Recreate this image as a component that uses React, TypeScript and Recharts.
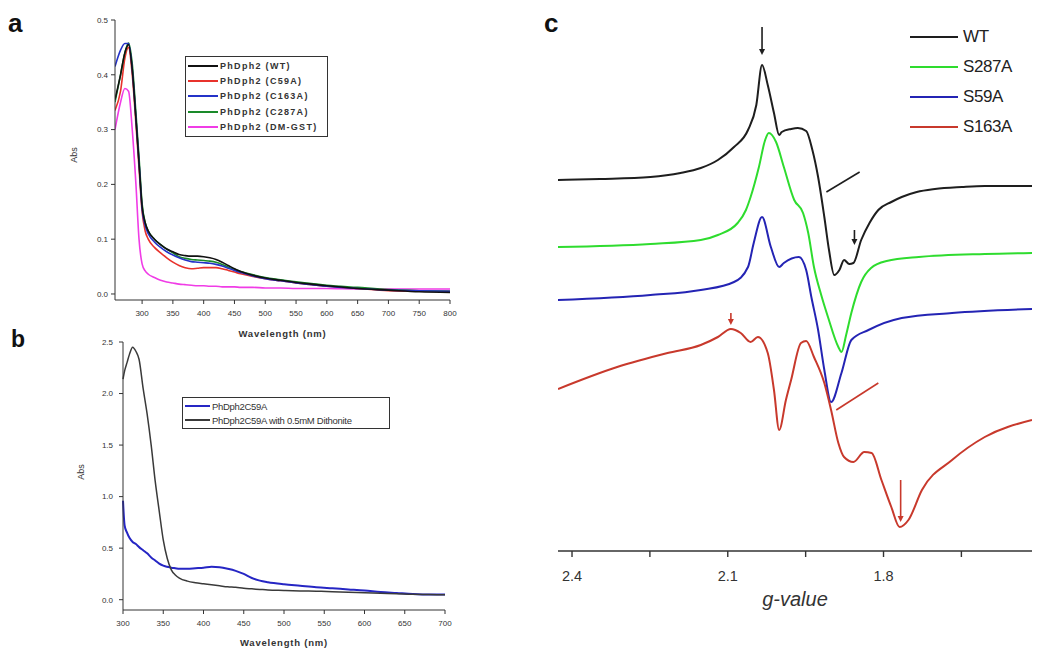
import { LineChart, Line, XAxis, YAxis, Legend, Label, ReferenceLine } from 'recharts';

const FONT = 'Arial, "Liberation Sans", Helvetica, sans-serif';
const AXIS = '#333333';

// ---------- panel a: UV-vis of PhDph2 variants ----------
const wavelengthA = [
  256, 265, 272, 278, 284, 290, 295, 300, 305, 310, 320, 330, 340, 350, 360, 370, 380, 390,
  400, 410, 420, 430, 440, 450, 460, 480, 500, 525, 550, 575, 600, 650, 700, 750, 800,
];
const wtA = [
  0.355, 0.4, 0.44, 0.455, 0.41, 0.32, 0.24, 0.16, 0.13, 0.115, 0.1, 0.09, 0.082, 0.077, 0.072,
  0.07, 0.069, 0.069, 0.068, 0.066, 0.063, 0.058, 0.052, 0.046, 0.041, 0.034, 0.029, 0.025,
  0.021, 0.018, 0.015, 0.01, 0.007, 0.004, 0.003,
];
const c59aA = [
  0.335, 0.37, 0.43, 0.45, 0.4, 0.31, 0.23, 0.15, 0.115, 0.1, 0.085, 0.075, 0.066, 0.058, 0.052,
  0.048, 0.046, 0.047, 0.048, 0.048, 0.048, 0.046, 0.043, 0.04, 0.037, 0.032, 0.028, 0.024,
  0.02, 0.017, 0.014, 0.01, 0.006, 0.005, 0.005,
];
const c163aA = [
  0.415, 0.445, 0.457, 0.457, 0.41, 0.32, 0.24, 0.155, 0.125, 0.11, 0.095, 0.085, 0.077, 0.071,
  0.066, 0.062, 0.059, 0.058, 0.057, 0.056, 0.054, 0.051, 0.047, 0.043, 0.039, 0.033, 0.028,
  0.024, 0.02, 0.017, 0.014, 0.01, 0.007, 0.006, 0.005,
];
const c287aA = [
  0.35, 0.4, 0.44, 0.458, 0.42, 0.33, 0.25, 0.165, 0.13, 0.115, 0.1, 0.09, 0.082, 0.075, 0.068,
  0.065, 0.063, 0.062, 0.061, 0.06, 0.058, 0.054, 0.049, 0.045, 0.041, 0.035, 0.03, 0.026,
  0.022, 0.019, 0.016, 0.012, 0.008, 0.006, 0.005,
];
const dmGstA = [
  0.3, 0.35, 0.375, 0.37, 0.3, 0.2, 0.1, 0.055, 0.042, 0.036, 0.03, 0.025, 0.022, 0.02, 0.018,
  0.017, 0.016, 0.015, 0.015, 0.014, 0.014, 0.013, 0.013, 0.013, 0.012, 0.012, 0.011, 0.011,
  0.01, 0.01, 0.01, 0.009, 0.009, 0.009, 0.009,
];
const ticksAx = [300, 350, 400, 450, 500, 550, 600, 650, 700, 750, 800];
const ticksAy = [0, 0.1, 0.2, 0.3, 0.4, 0.5];

const seriesA = [
  { key: 'wt', name: 'PhDph2 (WT)', color: '#111111', values: wtA },
  { key: 'c59a', name: 'PhDph2 (C59A)', color: '#e8322c', values: c59aA },
  { key: 'c163a', name: 'PhDph2 (C163A)', color: '#2432c8', values: c163aA },
  { key: 'c287a', name: 'PhDph2 (C287A)', color: '#1a8a2a', values: c287aA },
  { key: 'dm', name: 'PhDph2 (DM-GST)', color: '#f03ce6', values: dmGstA },
];
const drawOrderA = ['dm', 'c59a', 'c287a', 'c163a', 'wt'];

const rowsA = wavelengthA.map((w, i) => {
  const row: Record<string, number> = { w };
  seriesA.forEach((s) => (row[s.key] = s.values[i]));
  return row;
});

// ---------- panel b: C59A with / without dithionite ----------
const wavelengthB = [
  300, 302, 305, 308, 312, 316, 320, 325, 330, 335, 340, 345, 350, 355, 360, 365, 370, 380, 390,
  400, 410, 420, 430, 440, 450, 460, 470, 480, 500, 520, 540, 560, 580, 600, 620, 640, 660,
  680, 700,
];
const c59aB = [
  0.96, 0.72, 0.65, 0.6, 0.56, 0.54, 0.51, 0.48, 0.45, 0.41, 0.38, 0.35, 0.33, 0.32, 0.31,
  0.305, 0.3, 0.3, 0.305, 0.31, 0.32, 0.315, 0.3, 0.28, 0.25, 0.21, 0.185, 0.17, 0.15, 0.135,
  0.12, 0.11, 0.1, 0.09, 0.075, 0.065, 0.055, 0.05, 0.05,
];
const dithB = [
  2.14, 2.22, 2.3, 2.38, 2.45, 2.41, 2.33, 2.05, 1.8, 1.5, 1.15, 0.86, 0.58, 0.4, 0.29, 0.24,
  0.21, 0.18, 0.165, 0.155, 0.145, 0.135, 0.125, 0.12, 0.11, 0.105, 0.1, 0.095, 0.09, 0.085,
  0.082, 0.078, 0.072, 0.068, 0.063, 0.058, 0.052, 0.05, 0.048,
];
const ticksBx = [300, 350, 400, 450, 500, 550, 600, 650, 700];
const ticksBy = [0, 0.5, 1, 1.5, 2, 2.5];

const seriesB = [
  { key: 'c59a', name: 'PhDph2C59A', color: '#2626c4', values: c59aB },
  { key: 'dith', name: 'PhDph2C59A with 0.5mM Dithonite', color: '#3a3a3a', values: dithB },
];

const rowsB = wavelengthB.map((w, i) => {
  const row: Record<string, number> = { w };
  seriesB.forEach((s) => (row[s.key] = s.values[i]));
  return row;
});

// ---------- panel c: EPR spectra, [g-value, intensity (a.u., stacked)] ----------
const eprWT: [number, number][] = [
  [2.427, 37.1], [2.346, 37.2], [2.249, 37.4], [2.191, 37.8], [2.152, 38.3], [2.119, 39.1],
  [2.088, 40.4], [2.061, 42.1], [2.045, 44.6], [2.034, 48.6], [2.023, 46.6], [2.011, 43.8],
  [2.001, 41.6], [1.996, 41.9], [1.978, 42.2], [1.965, 42.3], [1.949, 42.0], [1.937, 40.1],
  [1.926, 37.4], [1.914, 33.4], [1.905, 30.1], [1.895, 27.6], [1.885, 28.1], [1.876, 29.1],
  [1.866, 28.7], [1.858, 28.8], [1.843, 31.1], [1.827, 32.8], [1.81, 34.1], [1.785, 34.9],
  [1.765, 35.4], [1.736, 35.9], [1.701, 36.2], [1.649, 36.4], [1.605, 36.5], [1.514, 36.5],
];
const eprS287A: [number, number][] = [
  [2.427, 30.4], [2.249, 30.7], [2.152, 31.1], [2.119, 31.6], [2.081, 32.8], [2.065, 34.1],
  [2.056, 35.4], [2.04, 38.4], [2.028, 41.1], [2.021, 41.8], [2.007, 40.9], [1.992, 38.4],
  [1.972, 35.1], [1.955, 33.8], [1.945, 31.8], [1.934, 28.4], [1.92, 25.6], [1.907, 23.4],
  [1.887, 20.4], [1.881, 19.9], [1.872, 21.6], [1.862, 23.8], [1.843, 26.9], [1.824, 28.3],
  [1.794, 29.0], [1.732, 29.4], [1.605, 29.7], [1.514, 29.8],
];
const eprS59A: [number, number][] = [
  [2.427, 25.1], [2.249, 25.6], [2.152, 26.1], [2.088, 26.9], [2.061, 28.4], [2.05, 30.8],
  [2.034, 33.4], [2.017, 30.4], [2.001, 28.4], [1.992, 28.8], [1.963, 29.4], [1.949, 28.1],
  [1.939, 25.4], [1.926, 22.1], [1.914, 18.1], [1.901, 14.9], [1.881, 17.8], [1.862, 21.1],
  [1.829, 22.1], [1.765, 23.3], [1.668, 23.8], [1.514, 24.2],
];
const eprS163A: [number, number][] = [
  [2.427, 16.2], [2.313, 18.4], [2.216, 19.8], [2.152, 20.6], [2.119, 21.4], [2.094, 22.2],
  [2.075, 21.8], [2.056, 20.9], [2.042, 21.4], [2.023, 19.8], [2.011, 16.1], [2.001, 12.1],
  [1.988, 15.1], [1.978, 17.1], [1.959, 20.8], [1.949, 21.0], [1.934, 19.4], [1.914, 16.8],
  [1.901, 14.1], [1.887, 10.8], [1.876, 9.4], [1.858, 8.9], [1.837, 9.9], [1.823, 9.8],
  [1.804, 7.1], [1.785, 4.4], [1.769, 2.4], [1.752, 3.1], [1.726, 6.1], [1.668, 9.1],
  [1.605, 11.4], [1.514, 13.1],
];
const gTicks = [2.4, 2.25, 2.1, 1.95, 1.8, 1.65];
const gLabelled = [2.4, 2.1, 1.8];

const seriesC = [
  { key: 'wt', name: 'WT', color: '#1e1e1e', points: eprWT },
  { key: 's287a', name: 'S287A', color: '#2edc2e', points: eprS287A },
  { key: 's59a', name: 'S59A', color: '#2424b4', points: eprS59A },
  { key: 's163a', name: 'S163A', color: '#c8392c', points: eprS163A },
];

// arrows and marker lines: [g1, i1, g2, i2, colour, arrowhead]
const markersC: [number, number, number, number, string, boolean][] = [
  [2.034, 52.4, 2.034, 49.6, '#1e1e1e', true],
  [1.91, 35.9, 1.846, 37.9, '#1e1e1e', false],
  [1.856, 32.1, 1.856, 30.6, '#1e1e1e', true],
  [2.094, 23.8, 2.094, 22.6, '#c8392c', true],
  [1.891, 14.1, 1.81, 16.8, '#c8392c', false],
  [1.767, 7.1, 1.767, 2.9, '#c8392c', true],
];

function arrowShape(head: boolean) {
  return (p: any) => {
    const { x1, y1, x2, y2, stroke } = p;
    const a = Math.atan2(y2 - y1, x2 - x1);
    const len = 6;
    const w = 3;
    const hx = x2 - len * Math.cos(a);
    const hy = y2 - len * Math.sin(a);
    const px = -Math.sin(a) * w;
    const py = Math.cos(a) * w;
    return (
      <g>
        <line x1={x1} y1={y1} x2={head ? hx : x2} y2={head ? hy : y2} stroke={stroke} strokeWidth={1.6} />
        {head && (
          <polygon
            points={`${x2},${y2} ${hx + px},${hy + py} ${hx - px},${hy - py}`}
            fill={stroke}
          />
        )}
      </g>
    );
  };
}

function BoxLegend({
  items,
  fontSize,
  rowHeight,
  lineLen,
  letterSpacing,
  weight,
}: {
  items: { name: string; color: string }[];
  fontSize: number;
  rowHeight: number;
  lineLen: number;
  letterSpacing: string;
  weight: number;
}) {
  return (
    <div
      style={{
        border: '1px solid #333',
        background: '#fff',
        padding: '1px 2px',
        fontFamily: FONT,
        fontSize,
        fontWeight: weight,
        color: '#333',
        letterSpacing,
      }}
    >
      {items.map((it) => (
        <div key={it.name} style={{ display: 'flex', alignItems: 'center', height: rowHeight, whiteSpace: 'nowrap' }}>
          <span style={{ display: 'inline-block', width: lineLen, height: 2, background: it.color, marginRight: 2 }} />
          {it.name}
        </div>
      ))}
    </div>
  );
}

const tickStyle = { fontSize: 8, fill: '#333', fontFamily: FONT };

function PanelA() {
  return (
    <LineChart width={470} height={345} data={rowsA} margin={{ top: 20, right: 20, left: 0, bottom: 0 }}>
      <XAxis
        dataKey="w"
        type="number"
        domain={[256, 800]}
        ticks={ticksAx}
        allowDataOverflow
        stroke={AXIS}
        tick={tickStyle}
        tickSize={4}
        tickMargin={6}
        height={45}
      >
        <Label
          content={(p: any) => (
            <text
              x={p.viewBox.x + p.viewBox.width / 2}
              y={p.viewBox.y + 37}
              textAnchor="middle"
              fontFamily={FONT}
              fontSize={9.5}
              fontWeight={700}
              letterSpacing={0.8}
              fill="#333"
            >
              Wavelength (nm)
            </text>
          )}
        />
      </XAxis>
      <YAxis
        type="number"
        domain={[-0.011, 0.5]}
        ticks={ticksAy}
        allowDataOverflow
        stroke={AXIS}
        tick={tickStyle}
        tickSize={4}
        tickMargin={3}
        width={115}
        tickFormatter={(v: number) => v.toFixed(1)}
      >
        <Label
          content={(p: any) => {
            const x = p.viewBox.x + 77;
            const y = p.viewBox.y + p.viewBox.height / 2 - 5;
            return (
              <text x={x} y={y} transform={`rotate(-90 ${x} ${y})`} textAnchor="middle" fontFamily={FONT} fontSize={9} fill="#333">
                Abs
              </text>
            );
          }}
        />
      </YAxis>
      <Legend
        layout="vertical"
        align="center"
        verticalAlign="middle"
        wrapperStyle={{ left: 185, top: 56, width: 143 }}
        content={() => (
          <BoxLegend items={seriesA} fontSize={9} rowHeight={15.4} lineLen={30} letterSpacing="1.3px" weight={700} />
        )}
      />
      {drawOrderA.map((k) => {
        const s = seriesA.find((x) => x.key === k)!;
        return (
          <Line
            key={k}
            dataKey={k}
            name={s.name}
            stroke={s.color}
            strokeWidth={1.6}
            dot={false}
            type="monotone"
            isAnimationActive={false}
          />
        );
      })}
    </LineChart>
  );
}

function PanelB() {
  return (
    <LineChart width={470} height={352} data={rowsB} margin={{ top: 32, right: 25, left: 0, bottom: 0 }}>
      <XAxis
        dataKey="w"
        type="number"
        domain={[300, 700]}
        ticks={ticksBx}
        stroke={AXIS}
        tick={tickStyle}
        tickSize={4}
        tickMargin={6}
        height={52}
      >
        <Label
          content={(p: any) => (
            <text
              x={p.viewBox.x + p.viewBox.width / 2}
              y={p.viewBox.y + 36}
              textAnchor="middle"
              fontFamily={FONT}
              fontSize={9.5}
              fontWeight={700}
              letterSpacing={0.8}
              fill="#333"
            >
              Wavelength (nm)
            </text>
          )}
        />
      </XAxis>
      <YAxis
        type="number"
        domain={[-0.1, 2.5]}
        ticks={ticksBy}
        allowDataOverflow
        stroke={AXIS}
        tick={tickStyle}
        tickSize={4}
        tickMargin={6}
        width={123}
        tickFormatter={(v: number) => v.toFixed(1)}
      >
        <Label
          content={(p: any) => {
            const x = p.viewBox.x + 84;
            const y = p.viewBox.y + p.viewBox.height / 2 - 4;
            return (
              <text x={x} y={y} transform={`rotate(-90 ${x} ${y})`} textAnchor="middle" fontFamily={FONT} fontSize={9} fill="#333">
                Abs
              </text>
            );
          }}
        />
      </YAxis>
      <Legend
        layout="vertical"
        align="center"
        verticalAlign="middle"
        wrapperStyle={{ left: 182, top: 87, width: 208 }}
        content={() => (
          <BoxLegend items={seriesB} fontSize={9.5} rowHeight={14} lineLen={25} letterSpacing="-0.3px" weight={400} />
        )}
      />
      {seriesB.map((s) => (
        <Line
          key={s.key}
          dataKey={s.key}
          name={s.name}
          stroke={s.color}
          strokeWidth={s.key === 'c59a' ? 2 : 1.5}
          dot={false}
          type="monotone"
          isAnimationActive={false}
        />
      ))}
    </LineChart>
  );
}

function PanelC() {
  return (
    <LineChart width={510} height={620} margin={{ top: 0, right: 18, left: 18, bottom: 0 }}>
      <XAxis
        dataKey="g"
        type="number"
        domain={[1.514, 2.427]}
        reversed
        allowDataOverflow
        ticks={gTicks}
        tickFormatter={(v: number) => (gLabelled.includes(v) ? v.toFixed(1) : '')}
        stroke={AXIS}
        axisLine={{ stroke: AXIS, strokeWidth: 1.6 }}
        tickLine={{ stroke: AXIS, strokeWidth: 1.4 }}
        tick={{ fontSize: 14.5, fill: '#333', fontFamily: FONT }}
        tickSize={6}
        tickMargin={14}
        height={69}
      >
        <Label
          content={(p: any) => (
            <text
              x={p.viewBox.x + p.viewBox.width / 2}
              y={p.viewBox.y + 55}
              textAnchor="middle"
              fontFamily={FONT}
              fontSize={20}
              fontStyle="italic"
              fill="#333"
            >
              g-value
            </text>
          )}
        />
      </XAxis>
      <YAxis type="number" domain={[0, 55.1]} hide />
      <Legend
        layout="vertical"
        align="center"
        verticalAlign="middle"
        wrapperStyle={{ left: 370, top: 22, width: 130 }}
        content={() => (
          <div style={{ fontFamily: FONT, fontSize: 17, color: '#222', letterSpacing: '-0.4px' }}>
            {seriesC.map((s) => (
              <div key={s.key} style={{ display: 'flex', alignItems: 'center', height: 30 }}>
                <span style={{ display: 'inline-block', width: 48, height: 2, background: s.color, marginRight: 5 }} />
                {s.name}
              </div>
            ))}
          </div>
        )}
      />
      {seriesC.map((s) => (
        <Line
          key={s.key}
          data={s.points.map(([g, i]) => ({ g, i }))}
          dataKey="i"
          name={s.name}
          stroke={s.color}
          strokeWidth={2}
          dot={false}
          type="monotone"
          isAnimationActive={false}
        />
      ))}
      {markersC.map(([g1, i1, g2, i2, color, head], idx) => (
        <ReferenceLine
          key={idx}
          segment={[
            { x: g1, y: i1 },
            { x: g2, y: i2 },
          ]}
          stroke={color}
          ifOverflow="visible"
          shape={arrowShape(head)}
        />
      ))}
    </LineChart>
  );
}

const panelLabel = (text: string, left: number, top: number, size: number) => (
  <div
    style={{
      position: 'absolute',
      left,
      top,
      fontFamily: FONT,
      fontWeight: 700,
      fontSize: size,
      lineHeight: `${size}px`,
      color: '#111',
    }}
  >
    {text}
  </div>
);

export default function App() {
  return (
    <div style={{ position: 'absolute', left: 0, top: 0, width: 1050, height: 662, background: '#fff', overflow: 'hidden' }}>
      <div style={{ position: 'absolute', left: 0, top: 0 }}>
        <PanelA />
      </div>
      <div style={{ position: 'absolute', left: 0, top: 310 }}>
        <PanelB />
      </div>
      <div style={{ position: 'absolute', left: 540, top: 0 }}>
        <PanelC />
      </div>
      {panelLabel('a', 8, 10, 26)}
      {panelLabel('b', 11, 328, 23)}
      {panelLabel('c', 544, 10, 26)}
    </div>
  );
}
